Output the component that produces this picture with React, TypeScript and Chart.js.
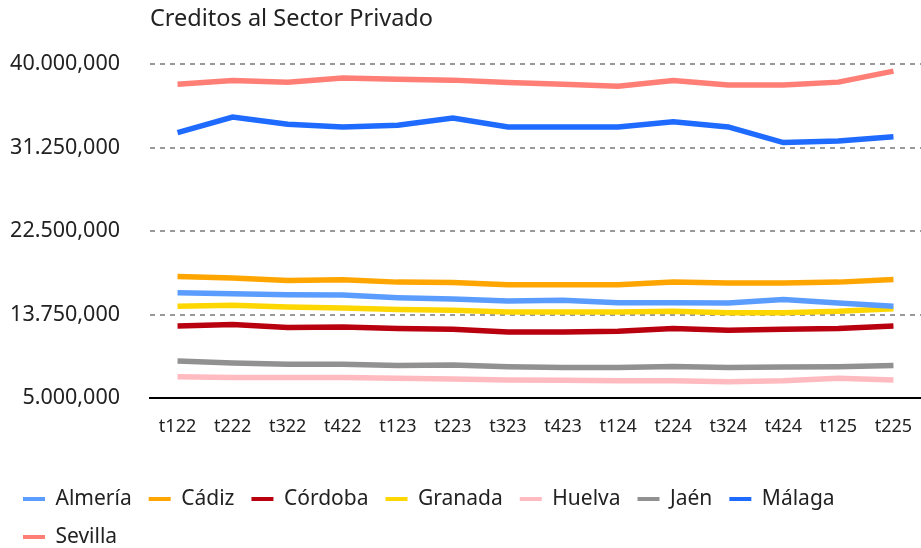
import React, { useEffect, useRef } from "react";
import { Chart, registerables } from "chart.js";

Chart.register(...registerables);

const categories = ["t122", "t222", "t322", "t422", "t123", "t223", "t323", "t423", "t124", "t224", "t324", "t424", "t125", "t225"];

const almeria = [16040000, 15940000, 15830000, 15790000, 15520000, 15370000, 15170000, 15240000, 15000000, 15000000, 14960000, 15340000, 14960000, 14610000];
const cadiz = [17750000, 17570000, 17330000, 17400000, 17150000, 17120000, 16880000, 16880000, 16880000, 17150000, 17050000, 17050000, 17150000, 17430000];
const cordoba = [12550000, 12700000, 12390000, 12450000, 12280000, 12210000, 11930000, 11930000, 12000000, 12280000, 12100000, 12210000, 12280000, 12550000];
const granada = [14610000, 14720000, 14540000, 14430000, 14270000, 14190000, 14020000, 14020000, 14020000, 14090000, 13950000, 13950000, 14090000, 14370000];
const huelva = [7230000, 7160000, 7160000, 7160000, 7060000, 6980000, 6880000, 6850000, 6810000, 6810000, 6700000, 6810000, 7060000, 6880000];
const jaen = [8870000, 8660000, 8550000, 8550000, 8420000, 8450000, 8270000, 8210000, 8210000, 8310000, 8210000, 8240000, 8270000, 8420000];
const malaga = [32820000, 34460000, 33700000, 33420000, 33600000, 34360000, 33420000, 33420000, 33420000, 33970000, 33420000, 31780000, 31950000, 32400000];
const sevilla = [37910000, 38300000, 38120000, 38540000, 38430000, 38330000, 38080000, 37910000, 37700000, 38300000, 37810000, 37810000, 38120000, 39270000];

const seriesNames = ["Almería", "Cádiz", "Córdoba", "Granada", "Huelva", "Jaén", "Málaga", "Sevilla"];
const seriesValues = [almeria, cadiz, cordoba, granada, huelva, jaen, malaga, sevilla];
const seriesColors = ["#5B9DFF", "#FFA500", "#B8000E", "#FFD700", "#FFBBC0", "#919191", "#1F6BFF", "#FF7F76"];

const yMin = 5000000;
const yMax = 40000000;
const yStep = 8750000;

const FONT = "'Noto Sans', sans-serif";

function formatTick(v: number): string {
  const s = Math.round(v).toLocaleString("en-US");
  return s.replace(",", ".");
}

export default function App() {
  const ref = useRef<HTMLCanvasElement | null>(null);
  useEffect(() => {
    document.body.style.margin = "0";
    const canvas = ref.current;
    if (!canvas) return;
    const chart = new Chart(canvas, {
      type: "line",
      data: {
        labels: categories,
        datasets: seriesNames.map((name, i) => ({
          label: name,
          data: seriesValues[i],
          borderColor: seriesColors[i],
          backgroundColor: seriesColors[i],
          borderWidth: 5.5,
          pointRadius: 0,
          tension: 0,
          fill: false,
        })),
      },
      options: {
        responsive: false,
        animation: false,
        layout: { padding: { left: 6, right: 0, top: 0, bottom: -9.5 } },
        plugins: {
          title: {
            display: true,
            text: "Creditos al Sector Privado",
            align: "start",
            fullSize: false,
            color: "#222",
            font: { family: FONT, size: 23.5, weight: "normal" },
            padding: { top: 5, bottom: 31 },
          },
          legend: {
            display: true,
            position: "bottom",
            align: "start",
            labels: {
              boxWidth: 22,
              boxHeight: 4,
              padding: 17,
              color: "#222",
              font: { family: FONT, size: 21 },
              generateLabels: (ch: any) =>
                ch.data.datasets.map((ds: any, i: number) => ({
                  text: ds.label,
                  fillStyle: ds.borderColor,
                  strokeStyle: ds.borderColor,
                  lineWidth: 0,
                  hidden: !ch.isDatasetVisible(i),
                  datasetIndex: i,
                  fontColor: "#222",
                })),
            },
          },
          tooltip: { enabled: false },
        },
        scales: {
          x: {
            offset: true,
            grid: { display: false, drawTicks: false },
            border: { display: true, color: "#000", width: 2 },
            ticks: {
              color: "#222",
              padding: 18,
              maxRotation: 0,
              autoSkip: false,
              font: { family: FONT, size: 18 },
            },
            afterFit: (scale: any) => {
              scale.height = 73.5;
              scale.paddingLeft = 0;
              scale.paddingRight = 0;
            },
          },
          y: {
            min: yMin,
            max: yMax,
            grid: { color: "#999", lineWidth: 2, drawTicks: false },
            border: { display: false, dash: [5, 5] },
            ticks: {
              stepSize: yStep,
              color: "#222",
              padding: 30,
              font: { family: FONT, size: 21.5 },
              callback: (v: any) => formatTick(Number(v)),
            },
            afterFit: (scale: any) => {
              scale.width = 144;
            },
          },
        },
      },
    });
    return () => chart.destroy();
  }, []);
  return (
    <div style={{ position: "absolute", left: 0, top: 0, width: 921, height: 548 }}>
      <canvas ref={ref} width={921} height={548} style={{ width: 921, height: 548 }} />
    </div>
  );
}
